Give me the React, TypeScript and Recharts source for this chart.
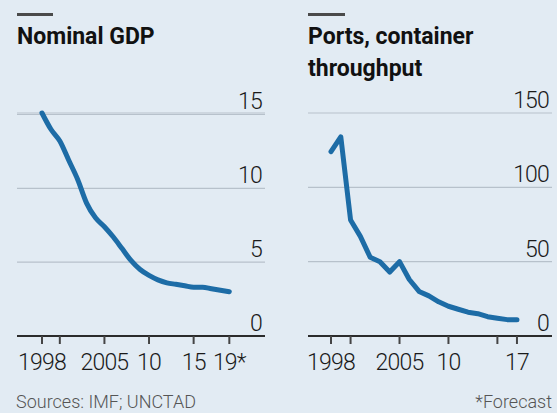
import React from "react";
import { LineChart, Line, XAxis, YAxis, CartesianGrid } from "recharts";

// Nominal GDP, 1998-2019 (19 is a forecast)
const gdpYears = [
  1998, 1999, 2000, 2001, 2002, 2003, 2004, 2005, 2006, 2007, 2008, 2009, 2010,
  2011, 2012, 2013, 2014, 2015, 2016, 2017, 2018, 2019,
];
const gdpValues = [
  15.1, 14.0, 13.2, 11.9, 10.6, 9.0, 8.0, 7.4, 6.7, 5.9, 5.1, 4.5, 4.1, 3.8,
  3.6, 3.5, 3.4, 3.3, 3.3, 3.2, 3.1, 3.0,
];

// Ports, container throughput, 1998-2017
const portYears = [
  1998, 1999, 2000, 2001, 2002, 2003, 2004, 2005, 2006, 2007, 2008, 2009, 2010,
  2011, 2012, 2013, 2014, 2015, 2016, 2017,
];
const portValues = [
  124, 134, 78, 67, 53, 50, 43, 50, 38, 30, 27, 23, 20, 18, 16, 15, 13, 12, 11,
  11,
];

const gdpTicks = [1998, 2000, 2005, 2010, 2015, 2019];
const gdpTickLabels = ["1998", "", "2005", "10", "15", "19*"];
const portTicks = [1998, 2000, 2005, 2010, 2015, 2017];
const portTickLabels = ["1998", "", "2005", "10", "", "17"];

const gdpYTicks = [0, 5, 10, 15];
const portYTicks = [0, 50, 100, 150];

const gdpData = gdpYears.map((year, i) => ({ year, value: gdpValues[i] }));
const portData = portYears.map((year, i) => ({ year, value: portValues[i] }));

const BG = "#e2ebf3";
const LINE = "#1d6ca6";
const FONT = "Roboto, 'Noto Sans', sans-serif";

function makeXTick(ticks: number[], labels: string[]) {
  return (props: any) => {
    const { x, y, payload } = props;
    const idx = ticks.indexOf(payload.value);
    return (
      <text
        x={x}
        y={y + 26}
        textAnchor="middle"
        fontFamily={FONT}
        fontWeight={300}
        fontSize={23}
        letterSpacing={-0.8}
        fill="#1a1a1a"
      >
        {idx >= 0 ? labels[idx] : ""}
      </text>
    );
  };
}

function makeYTick(right: number) {
  return (props: any) => {
    const { y, payload } = props;
    return (
      <text
        x={right - 3}
        y={y - 5}
        textAnchor="end"
        fontFamily={FONT}
        fontWeight={300}
        fontSize={23}
        letterSpacing={-0.8}
        fill="#1a1a1a"
      >
        {payload.value}
      </text>
    );
  };
}

function Panel({ data, xDomain, ticks, labels, yDomain, yTicks, width, margin, curve }: any) {
  const plotRight = width - margin.right - 1;
  return (
    <LineChart width={width} height={413} data={data} margin={margin}>
      <CartesianGrid vertical={false} stroke="#b7c1cb" strokeWidth={1.2} />
      <XAxis
        dataKey="year"
        type="number"
        domain={xDomain}
        ticks={ticks}
        minTickGap={-200}
        tickFormatter={(v: number) => labels[ticks.indexOf(v)] ?? ""}
        height={40}
        axisLine={{ stroke: "#2b2b2b", strokeWidth: 2 }}
        tickLine={{ stroke: "#454545", strokeWidth: 2 }}
        tickSize={8}
        tickMargin={0}
        tick={makeXTick(ticks, labels)}
      />
      <YAxis
        orientation="right"
        width={1}
        domain={yDomain}
        ticks={yTicks}
        axisLine={false}
        tickLine={false}
        tickSize={0}
        tickMargin={0}
        tick={makeYTick(plotRight)}
        interval={0}
      />
      <Line
        dataKey="value"
        type={curve}
        stroke={LINE}
        strokeWidth={5}
        strokeLinejoin="round"
        strokeLinecap="round"
        dot={false}
        isAnimationActive={false}
      />
    </LineChart>
  );
}

const titleStyle: React.CSSProperties = {
  position: "absolute",
  top: 21,
  fontFamily: FONT,
  fontWeight: 700,
  fontSize: 23,
  lineHeight: "32px",
  color: "#111",
  whiteSpace: "nowrap",
};

const noteStyle: React.CSSProperties = {
  position: "absolute",
  top: 393,
  fontFamily: FONT,
  fontWeight: 300,
  fontSize: 18,
  lineHeight: "18px",
  color: "#555",
  whiteSpace: "nowrap",
};

export default function App() {
  return (
    <div
      style={{
        position: "absolute",
        left: 0,
        top: 0,
        width: 557,
        height: 413,
        background: BG,
        overflow: "hidden",
      }}
    >
      <div style={{ position: "absolute", left: 0, top: 0 }}>
        <Panel
          data={gdpData}
          xDomain={[1995.2, 2023.0]}
          ticks={gdpTicks}
          labels={gdpTickLabels}
          yDomain={[0, 15]}
          yTicks={gdpYTicks}
          width={280}
          margin={{ top: 113, right: 14, bottom: 37, left: 17 }}
          curve="monotone"
        />
      </div>
      <div style={{ position: "absolute", left: 280, top: 0 }}>
        <Panel
          data={portData}
          xDomain={[1995.65, 2020.58]}
          ticks={portTicks}
          labels={portTickLabels}
          yDomain={[0, 150]}
          yTicks={portYTicks}
          width={277}
          margin={{ top: 113, right: 4, bottom: 37, left: 28 }}
          curve="linear"
        />
      </div>
      <div style={{ position: "absolute", left: 17, top: 13, width: 36, height: 3, background: "#4a4a4a" }} />
      <div style={{ position: "absolute", left: 308, top: 13, width: 37, height: 3, background: "#4a4a4a" }} />
      <div style={{ ...titleStyle, left: 17 }}>Nominal GDP</div>
      <div style={{ ...titleStyle, left: 308 }}>
        Ports, container
        <br />
        throughput
      </div>
      <div style={{ ...noteStyle, left: 16 }}>Sources: IMF; UNCTAD</div>
      <div style={{ ...noteStyle, right: 5 }}>*Forecast</div>
    </div>
  );
}
